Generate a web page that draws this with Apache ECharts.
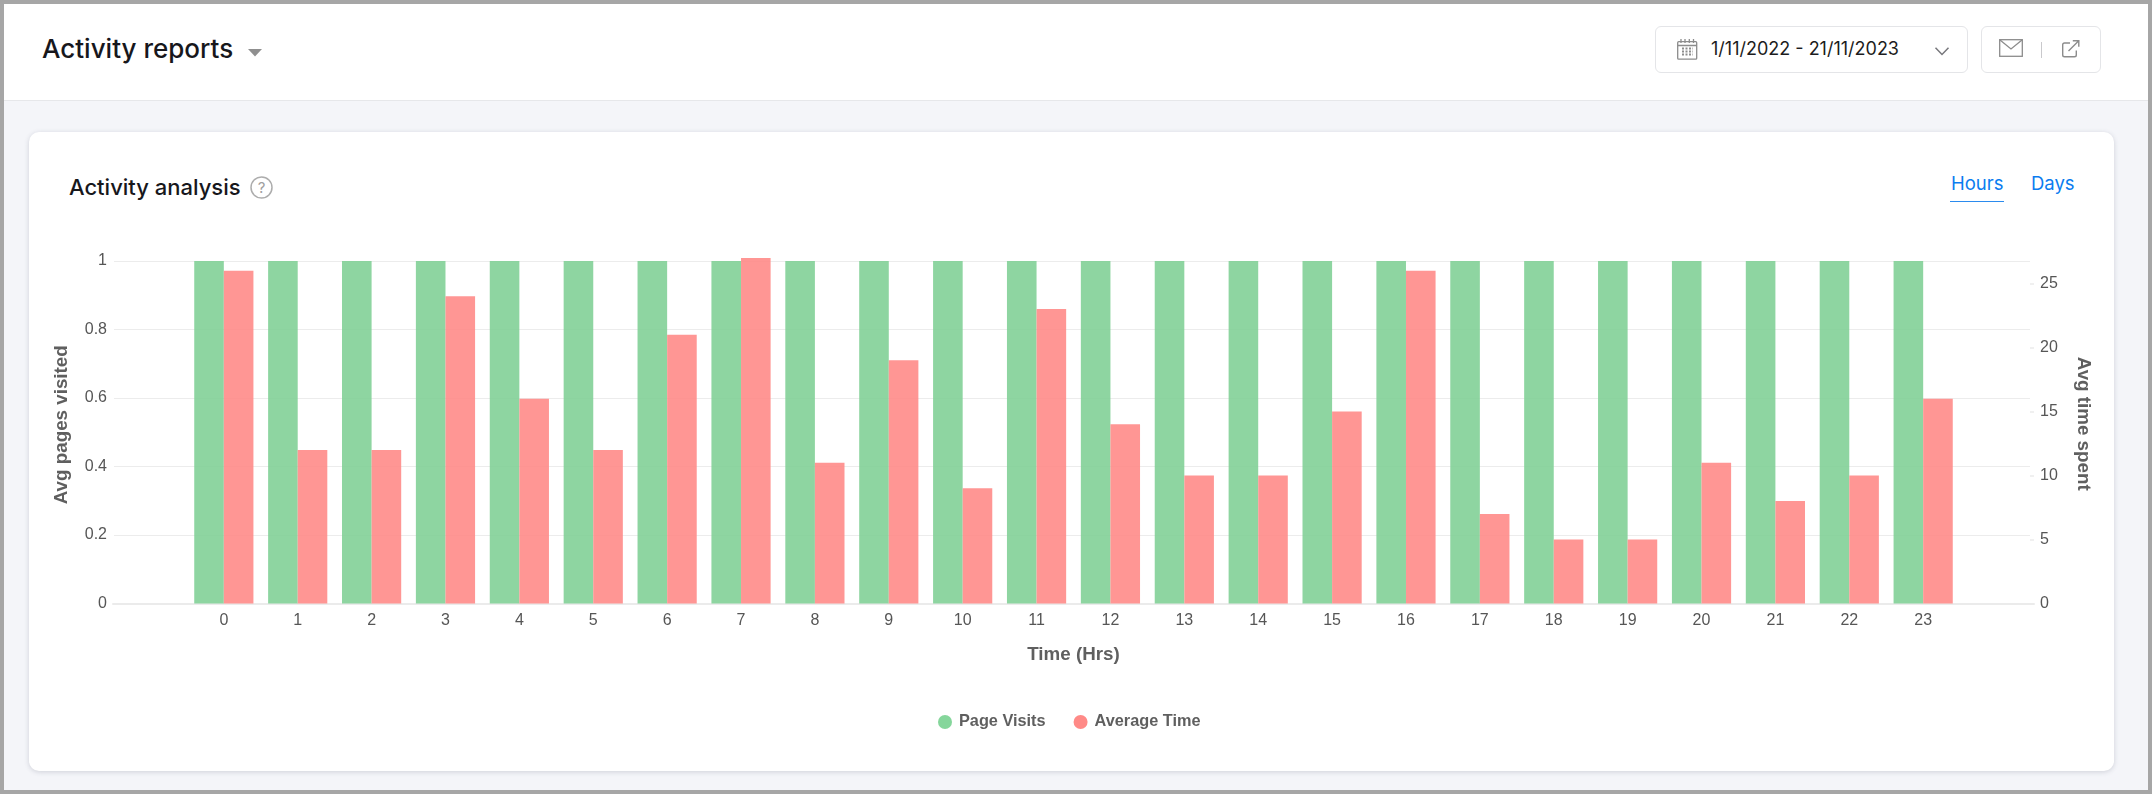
<!DOCTYPE html>
<html>
<head>
<meta charset="utf-8">
<title>Activity reports</title>
<script src="https://cdn.jsdelivr.net/npm/echarts@6/dist/echarts.min.js"></script>
<style>
html,body{margin:0;padding:0;width:2152px;height:794px;overflow:hidden;background:#f4f5f9;}
#frame{position:absolute;left:0;top:0;width:2152px;height:794px;box-sizing:border-box;border:4px solid #a6a6a6;z-index:5;pointer-events:none;}
#header{position:absolute;left:0;top:0;width:2152px;height:100px;background:#fff;border-bottom:1px solid #e6e7ea;box-sizing:content-box;}
#card{position:absolute;left:29px;top:132px;width:2085px;height:639px;background:#fff;border-radius:10px;box-shadow:0 1px 5px rgba(60,64,90,.2);}
.t{position:absolute;font-family:Inter,"Noto Sans",sans-serif;white-space:nowrap;line-height:1;transform:translateY(-50%);}
.box{position:absolute;top:26px;height:47px;box-sizing:border-box;border:1px solid #e4e5e8;border-radius:6px;background:#fff;}
svg.i{position:absolute;overflow:visible;}
#chart{position:absolute;left:0;top:0;width:2152px;height:794px;}
</style>
</head>
<body>
<div id="header"></div>
<div id="card"></div>
<div class="t" style="left:42px;top:49px;font-size:26px;font-weight:500;color:#17171c;">Activity reports</div>
<svg class="i" style="left:248px;top:48px" width="14" height="9"><path d="M0 1H14L7 8.500Z" fill="#8f8f8f"/></svg>

<div class="box" style="left:1655px;width:313px;"></div>
<svg class="i" style="left:1677px;top:39px" width="20" height="21" fill="none" stroke="#8c8c8c" stroke-width="1.300">
  <rect x="0.700" y="2.700" width="19" height="17.500" rx="1"/><path d="M0.700 6.500H19.700M4 0V4M8 0V4M12.300 0V4M16.500 0V4"/>
  <path d="M5 9.500H16M5 12.500H16M5 15.500H16" stroke-width="2" stroke-dasharray="2 1.500"/>
</svg>
<div class="t" style="left:1711px;top:49px;font-size:18px;color:#1c1c20;">1/11/2022 - 21/11/2023</div>
<svg class="i" style="left:1935px;top:47px" width="14" height="9" fill="none" stroke="#77777c" stroke-width="1.500"><path d="M0.500 0.800L7 7.500L13.500 0.800"/></svg>

<div class="box" style="left:1981px;width:120px;"></div>
<svg class="i" style="left:1999px;top:39px" width="25" height="19" fill="none" stroke="#8c8c8c" stroke-width="1.300"><rect x="0.700" y="0.700" width="22.600" height="16.600"/><path d="M0.700 0.700L12 10L23.300 0.700"/></svg>
<svg class="i" style="left:2041px;top:42px" width="2" height="16"><path d="M0.500 0V16" stroke="#c9c9cc" stroke-width="1"/></svg>
<svg class="i" style="left:2062px;top:40px" width="18" height="18" fill="none" stroke="#8c8c8c" stroke-width="1.400"><path d="M8 3H2.500Q0.700 3 0.700 4.800V15Q0.700 16.800 2.500 16.800H12.500Q14.300 16.800 14.300 15V10.500"/><path d="M6.500 11L16.500 1M10.800 0.800H16.800V6.800"/></svg>

<div class="t" style="left:69px;top:187px;font-size:22px;font-weight:500;color:#17171c;">Activity analysis</div>
<svg class="i" style="left:250px;top:176px" width="23" height="23" fill="none"><circle cx="11.500" cy="11.500" r="10.500" stroke="#adadad" stroke-width="1.500"/><text x="11.500" y="17" text-anchor="middle" font-family="Inter,sans-serif" font-size="15" fill="#a0a0a0">?</text></svg>

<div class="t" style="left:1951px;top:183px;font-size:18.500px;font-weight:400;color:#0b7cf0;">Hours</div>
<div style="position:absolute;left:1950px;top:200.500px;width:54px;height:1.500px;background:#2b8bee;"></div>
<div class="t" style="left:2031px;top:183px;font-size:18.500px;font-weight:400;color:#0b7cf0;">Days</div>

<div id="chart"></div>
<div id="frame"></div>

<script>
const hourLabels = ['', '0','1','2','3','4','5','6','7','8','9','10','11','12','13','14','15','16','17','18','19','20','21','22','23', ''];
const pageVisits = [null, 1,1,1,1,1,1,1,1,1,1,1,1,1,1,1,1,1,1,1,1,1,1,1,1, null];
const averageTime = [null, 26,12,12,24,16,12,21,27,11,19,9,23,14,10,10,15,26,7,5,5,11,8,10,16, null];
const leftTicks = [0, 0.2, 0.4, 0.6, 0.8, 1];
const rightTicks = [0, 5, 10, 15, 20, 25];

const labelFont = 'Liberation Sans';
const chart = echarts.init(document.getElementById('chart'), null, {renderer: 'canvas'});
chart.setOption({
  animation: false,
  backgroundColor: 'transparent',
  grid: [
    {left: 113, top: 261, width: 1921, height: 342.5},
    {left: 114, top: 261, width: 1916, height: 342.5}
  ],
  legend: {
    show: true,
    left: 933,
    top: 709,
    icon: 'circle',
    itemWidth: 14,
    itemHeight: 14,
    itemGap: 28,
    textStyle: {fontFamily: labelFont, fontSize: 16.3, fontWeight: 'bold', color: '#5f5f5f', padding: [0, 0, 0, 2]},
    data: [
      {name: 'Page Visits', itemStyle: {color: '#85D69B', opacity: 1}},
      {name: 'Average Time', itemStyle: {color: '#FF8A87', opacity: 1}}
    ]
  },
  xAxis: [
    {
      type: 'category',
      gridIndex: 0,
      data: hourLabels,
      name: 'Time (Hrs)',
      nameLocation: 'middle',
      nameGap: 42,
      nameTextStyle: {fontFamily: labelFont, fontSize: 18.8, fontWeight: 'bold', color: '#5f5f5f'},
      axisLine: {lineStyle: {color: '#ebebeb', width: 2}},
      axisTick: {alignWithLabel: true, length: 4, lineStyle: {color: '#e6e6e6'}, interval: (i, v) => v !== ''},
      axisLabel: {interval: 0, margin: 9, fontFamily: labelFont, fontSize: 16, color: '#565656'}
    },
    {type: 'category', gridIndex: 1, data: hourLabels, show: false}
  ],
  yAxis: [
    {type: 'value', gridIndex: 0, min: 0, max: 1, interval: 0.2, show: false, splitLine: {show: false}},
    {
      type: 'value',
      gridIndex: 0,
      position: 'right',
      min: 0,
      max: 26.76,
      interval: 5,
      name: 'Avg time spent',
      nameLocation: 'middle',
      nameGap: 40,
      nameRotate: -90,
      nameTextStyle: {fontFamily: labelFont, fontSize: 18.8, fontWeight: 'bold', color: '#5f5f5f', padding: [0, 17, 0, 0]},
      axisLine: {show: false},
      axisTick: {show: true, inside: true, length: 4, customValues: rightTicks.slice(1), lineStyle: {color: '#ececec', width: 1.5}},
      axisLabel: {margin: 6, fontFamily: labelFont, fontSize: 16, color: '#565656', customValues: rightTicks},
      splitLine: {show: false}
    },
    {
      type: 'value',
      gridIndex: 1,
      min: 0,
      max: 1,
      interval: 0.2,
      name: 'Avg pages visited',
      nameLocation: 'middle',
      nameGap: 43,
      nameTextStyle: {fontFamily: labelFont, fontSize: 18.8, fontWeight: 'bold', color: '#5f5f5f', padding: [0, 0, 0, 15]},
      axisLine: {show: false},
      axisTick: {show: false},
      axisLabel: {margin: 7, fontFamily: labelFont, fontSize: 16, color: '#565656', customValues: leftTicks},
      splitLine: {show: true, lineStyle: {color: '#ececec', width: 1}}
    }
  ],
  series: [
    {
      name: 'Page Visits',
      type: 'bar',
      xAxisIndex: 0,
      yAxisIndex: 0,
      data: pageVisits,
      barWidth: 29.6,
      barGap: 0,
      clip: false,
      itemStyle: {color: '#82D097', opacity: 0.9}
    },
    {
      name: 'Average Time',
      type: 'bar',
      xAxisIndex: 0,
      yAxisIndex: 1,
      data: averageTime,
      barWidth: 29.6,
      barGap: 0,
      clip: false,
      itemStyle: {color: '#FF8B88', opacity: 0.9}
    }
  ]
});
</script>
</body>
</html>
